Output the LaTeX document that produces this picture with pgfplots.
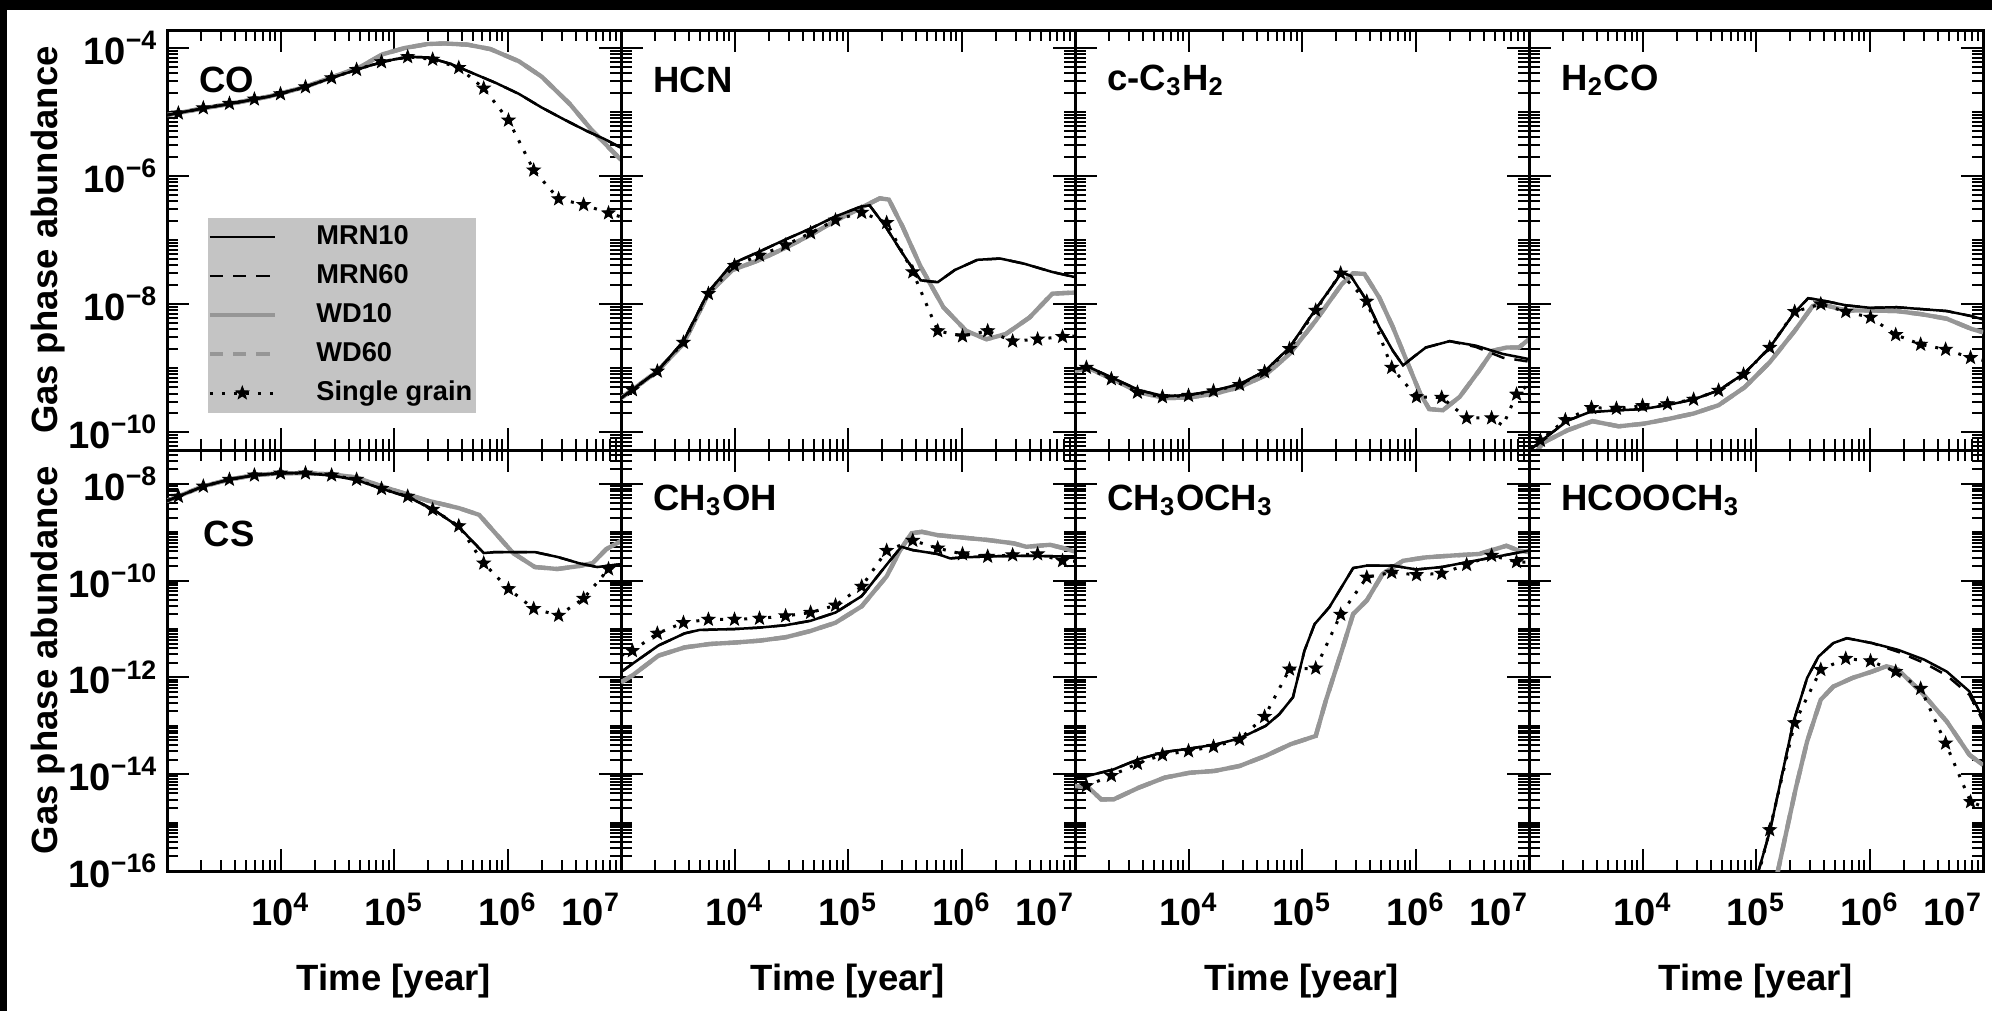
\documentclass[border=0pt]{standalone}
\usepackage{pgfplots}
\pgfplotsset{compat=1.18}
\usepackage{pgfplotstable}
\usepackage{fontspec}
\setmainfont{Liberation Sans}
\definecolor{wdgray}{RGB}{150,150,150}
\definecolor{legbg}{RGB}{196,196,196}

\pgfdeclareplotmark{fstar}{%
  \pgfpathmoveto{\pgfqpointpolar{90}{\pgfplotmarksize}}%
  \pgfpathlineto{\pgfqpointpolar{126}{0.42\pgfplotmarksize}}%
  \pgfpathlineto{\pgfqpointpolar{162}{\pgfplotmarksize}}%
  \pgfpathlineto{\pgfqpointpolar{198}{0.42\pgfplotmarksize}}%
  \pgfpathlineto{\pgfqpointpolar{234}{\pgfplotmarksize}}%
  \pgfpathlineto{\pgfqpointpolar{270}{0.42\pgfplotmarksize}}%
  \pgfpathlineto{\pgfqpointpolar{306}{\pgfplotmarksize}}%
  \pgfpathlineto{\pgfqpointpolar{342}{0.42\pgfplotmarksize}}%
  \pgfpathlineto{\pgfqpointpolar{18}{\pgfplotmarksize}}%
  \pgfpathlineto{\pgfqpointpolar{54}{0.42\pgfplotmarksize}}%
  \pgfpathclose\pgfusepathqfillstroke}

\def\yminors{1e-17}
\foreach \e in {-17,...,-3}{\foreach \m in {2,...,9}{\xdef\yminors{\yminors,\m e\e}}}
\foreach \e in {-17,-15,...,-3}{\xdef\yminors{\yminors,1e\e}}
\def\xminors{2e3}
\foreach \e in {3,...,6}{\foreach \m in {2,...,9}{\xdef\xminors{\xminors,\m e\e}}}

% ---------------- data ----------------
% CO
\pgfplotstableread{
x y
1e3 8.91e-6
2.0e3 1.12e-5
3.98e3 1.38e-5
7.94e3 1.74e-5
1.58e4 2.40e-5
3.16e4 3.63e-5
6.31e4 5.37e-5
1e5 6.61e-5
1.41e5 7.24e-5
2.0e5 7.08e-5
3.16e5 5.62e-5
5.01e5 3.98e-5
7.94e5 2.82e-5
1.26e6 1.91e-5
2.0e6 1.17e-5
3.16e6 7.59e-6
5.01e6 5.01e-6
7.08e6 3.80e-6
1e7 2.75e-6
}\coM
\pgfplotstableread{
x y
1e3 8.91e-6
2.0e3 1.12e-5
3.98e3 1.38e-5
7.94e3 1.74e-5
1.58e4 2.40e-5
3.16e4 3.72e-5
5.01e4 5.01e-5
7.94e4 7.94e-5
1.26e5 1.0e-4
2.0e5 1.15e-4
2.82e5 1.17e-4
4.47e5 1.12e-4
7.08e5 9.55e-5
1.26e6 6.17e-5
2.0e6 3.55e-5
3.55e6 1.32e-5
5.62e6 5.01e-6
1e7 1.78e-6
}\coW
\pgfplotstableread{
x y
1.26e3 9.55e-6
2.09e3 1.15e-5
3.55e3 1.35e-5
5.89e3 1.58e-5
1.00e4 1.91e-5
1.66e4 2.45e-5
2.82e4 3.39e-5
4.68e4 4.57e-5
7.76e4 6.03e-5
1.32e5 7.24e-5
2.19e5 6.61e-5
3.72e5 4.90e-5
6.17e5 2.34e-5
1.02e6 7.41e-6
1.70e6 1.23e-6
2.82e6 4.37e-7
4.68e6 3.55e-7
7.76e6 2.63e-7
}\coS
\pgfplotstableread{
x y
1e3 8.91e-6
1.26e3 9.55e-6
2.09e3 1.15e-5
3.55e3 1.35e-5
5.89e3 1.58e-5
1.00e4 1.91e-5
1.66e4 2.45e-5
2.82e4 3.39e-5
4.68e4 4.57e-5
7.76e4 6.03e-5
1.32e5 7.24e-5
2.19e5 6.61e-5
3.72e5 4.90e-5
6.17e5 2.34e-5
1.02e6 7.41e-6
1.70e6 1.23e-6
2.82e6 4.37e-7
4.68e6 3.55e-7
7.76e6 2.63e-7
1e7 2.29e-7
}\coD
% HCN
\pgfplotstableread{
x y
1e3 3.39e-10
2.09e3 8.91e-10
3.55e3 2.63e-9
5.89e3 1.55e-8
9.55e3 4.27e-8
1.62e4 6.46e-8
2.75e4 1.0e-7
4.68e4 1.51e-7
7.59e4 2.29e-7
1.29e5 3.31e-7
1.55e5 3.47e-7
2.14e5 1.62e-7
3.02e5 6.17e-8
4.37e5 2.34e-8
6.17e5 2.19e-8
8.71e5 3.39e-8
1.38e6 4.90e-8
2.19e6 5.13e-8
3.55e6 4.27e-8
6.31e6 3.16e-8
1e7 2.63e-8
}\hcnM
\pgfplotstableread{
x y
1e3 3.39e-10
2.09e3 8.91e-10
3.55e3 2.40e-9
5.89e3 1.45e-8
9.55e3 3.39e-8
1.62e4 4.79e-8
2.75e4 7.41e-8
4.68e4 1.20e-7
7.59e4 1.95e-7
1.29e5 3.16e-7
1.91e5 4.47e-7
2.29e5 4.27e-7
3.02e5 1.62e-7
4.37e5 3.80e-8
6.92e5 8.91e-9
1.10e6 3.80e-9
1.66e6 2.82e-9
2.45e6 3.39e-9
3.98e6 6.17e-9
6.31e6 1.45e-8
1e7 1.51e-8
}\hcnW
\pgfplotstableread{
x y
1.26e3 4.57e-10
2.09e3 8.91e-10
3.55e3 2.51e-9
5.89e3 1.45e-8
1.00e4 3.98e-8
1.66e4 5.75e-8
2.82e4 8.32e-8
4.68e4 1.29e-7
7.76e4 2.04e-7
1.32e5 2.69e-7
2.19e5 1.86e-7
3.72e5 3.16e-8
6.17e5 3.80e-9
1.02e6 3.16e-9
1.70e6 3.80e-9
2.82e6 2.63e-9
4.68e6 2.82e-9
7.76e6 3.09e-9
}\hcnS
\pgfplotstableread{
x y
1e3 3.39e-10
1.26e3 4.57e-10
2.09e3 8.91e-10
3.55e3 2.51e-9
5.89e3 1.45e-8
1.00e4 3.98e-8
1.66e4 5.75e-8
2.82e4 8.32e-8
4.68e4 1.29e-7
7.76e4 2.04e-7
1.32e5 2.69e-7
2.19e5 1.86e-7
3.72e5 3.16e-8
6.17e5 3.80e-9
1.02e6 3.16e-9
1.70e6 3.80e-9
2.82e6 2.63e-9
4.68e6 2.82e-9
7.76e6 3.09e-9
1e7 3.16e-9
}\hcnD
% c-C3H2
\pgfplotstableread{
x y
1e3 9.77e-10
1.35e3 1.02e-9
2.24e3 6.76e-10
3.72e3 4.47e-10
6.17e3 3.63e-10
1.02e4 3.80e-10
1.70e4 4.47e-10
2.82e4 5.62e-10
4.68e4 8.91e-10
7.76e4 2.09e-9
1.32e5 8.32e-9
2.24e5 3.09e-8
2.69e5 2.75e-8
3.72e5 1.12e-8
4.79e5 4.37e-9
6.31e5 1.86e-9
7.76e5 1.10e-9
9.55e5 1.48e-9
1.23e6 2.09e-9
2.0e6 2.63e-9
3.39e6 2.24e-9
5.89e6 1.66e-9
1e7 1.38e-9
}\ccM
\pgfplotstableread{
x y
1e3 9.77e-10
1.35e3 1.02e-9
2.24e3 6.76e-10
3.72e3 4.47e-10
6.17e3 3.63e-10
1.02e4 3.80e-10
1.70e4 4.47e-10
2.82e4 5.62e-10
4.68e4 8.91e-10
7.76e4 2.09e-9
1.32e5 8.32e-9
2.24e5 3.09e-8
2.69e5 2.75e-8
3.72e5 1.12e-8
4.79e5 4.37e-9
6.31e5 1.86e-9
7.76e5 1.10e-9
9.55e5 1.48e-9
1.23e6 2.09e-9
2.0e6 2.63e-9
3.39e6 2.14e-9
5.89e6 1.45e-9
1e7 1.26e-9
}\ccMd
\pgfplotstableread{
x y
1e3 9.12e-10
1.35e3 9.77e-10
2.24e3 6.46e-10
3.72e3 4.17e-10
6.17e3 3.39e-10
1.02e4 3.47e-10
1.70e4 3.98e-10
2.82e4 5.01e-10
4.68e4 7.59e-10
7.76e4 1.66e-9
1.32e5 5.50e-9
2.24e5 2.04e-8
2.82e5 3.02e-8
3.55e5 2.95e-8
4.79e5 1.26e-8
6.31e5 4.37e-9
8.32e5 1.32e-9
1.10e6 3.98e-10
1.32e6 2.29e-10
1.74e6 2.19e-10
2.45e6 3.55e-10
3.63e6 9.12e-10
4.79e6 1.86e-9
6.31e6 2.09e-9
8.13e6 2.09e-9
1e7 2.82e-9
}\ccW
\pgfplotstableread{
x y
1.26e3 1.02e-9
2.09e3 6.76e-10
3.55e3 4.17e-10
5.89e3 3.55e-10
1.00e4 3.72e-10
1.66e4 4.37e-10
2.82e4 5.50e-10
4.68e4 8.71e-10
7.76e4 2.0e-9
1.32e5 7.94e-9
2.19e5 3.02e-8
3.72e5 1.10e-8
6.17e5 1.02e-9
1.02e6 3.55e-10
1.70e6 3.47e-10
2.82e6 1.66e-10
4.68e6 1.66e-10
7.76e6 3.89e-10
}\ccS
\pgfplotstableread{
x y
1e3 9.77e-10
1.26e3 1.02e-9
2.09e3 6.76e-10
3.55e3 4.17e-10
5.89e3 3.55e-10
1.00e4 3.72e-10
1.66e4 4.37e-10
2.82e4 5.50e-10
4.68e4 8.71e-10
7.76e4 2.0e-9
1.32e5 7.94e-9
2.19e5 3.02e-8
3.72e5 1.10e-8
6.17e5 1.02e-9
1.02e6 3.55e-10
1.70e6 3.47e-10
2.82e6 1.66e-10
4.68e6 1.66e-10
5.89e6 1.26e-10
7.76e6 3.89e-10
1e7 5.62e-10
}\ccD
% H2CO
\pgfplotstableread{
x y
1e3 5.13e-11
1.32e3 7.59e-11
2.19e3 1.51e-10
3.39e3 2.04e-10
6.17e3 2.19e-10
1.02e4 2.29e-10
1.74e4 2.69e-10
2.82e4 3.24e-10
4.68e4 4.47e-10
7.94e4 8.32e-10
1.32e5 2.09e-9
2.19e5 7.41e-9
2.88e5 1.23e-8
3.72e5 1.15e-8
6.17e5 9.55e-9
1.02e6 8.71e-9
1.74e6 8.91e-9
2.88e6 8.32e-9
4.79e6 7.76e-9
7.94e6 6.46e-9
1e7 5.75e-9
}\hcoM
\pgfplotstableread{
x y
1e3 3.55e-11
1.35e3 6.92e-11
2.19e3 1.07e-10
3.63e3 1.48e-10
6.17e3 1.23e-10
1.02e4 1.35e-10
1.74e4 1.62e-10
2.82e4 1.95e-10
4.68e4 2.63e-10
7.94e4 5.01e-10
1.32e5 1.23e-9
2.19e5 3.80e-9
3.16e5 9.33e-9
3.72e5 1.0e-8
6.17e5 7.94e-9
1.02e6 7.94e-9
1.74e6 7.76e-9
2.88e6 6.92e-9
4.79e6 5.89e-9
7.94e6 4.07e-9
1e7 3.63e-9
}\hcoW
\pgfplotstableread{
x y
1.26e3 7.41e-11
2.09e3 1.55e-10
3.55e3 2.40e-10
5.89e3 2.34e-10
1.00e4 2.57e-10
1.66e4 2.75e-10
2.82e4 3.24e-10
4.68e4 4.47e-10
7.76e4 7.94e-10
1.32e5 2.09e-9
2.19e5 7.59e-9
3.72e5 1.0e-8
6.17e5 7.59e-9
1.02e6 6.17e-9
1.70e6 3.31e-9
2.82e6 2.34e-9
4.68e6 1.95e-9
7.76e6 1.45e-9
}\hcoS
\pgfplotstableread{
x y
1e3 5.0e-11
1.26e3 7.41e-11
2.09e3 1.55e-10
3.55e3 2.40e-10
5.89e3 2.34e-10
1.00e4 2.57e-10
1.66e4 2.75e-10
2.82e4 3.24e-10
4.68e4 4.47e-10
7.76e4 7.94e-10
1.32e5 2.09e-9
2.19e5 7.59e-9
3.72e5 1.0e-8
6.17e5 7.59e-9
1.02e6 6.17e-9
1.70e6 3.31e-9
2.82e6 2.34e-9
4.68e6 1.95e-9
7.76e6 1.45e-9
1e7 1.32e-9
}\hcoD
% CS
\pgfplotstableread{
x y
1e3 4.47e-9
1.26e3 5.50e-9
2.09e3 8.91e-9
3.55e3 1.23e-8
5.89e3 1.51e-8
1e4 1.66e-8
1.66e4 1.66e-8
2.82e4 1.48e-8
4.68e4 1.20e-8
7.76e4 7.94e-9
1.32e5 5.37e-9
2.19e5 3.02e-9
3.72e5 1.29e-9
6.17e5 3.72e-10
7.76e5 3.89e-10
1.74e6 3.89e-10
2.75e6 3.09e-10
4.27e6 2.29e-10
6.17e6 1.91e-10
1e7 2.19e-10
}\csM
\pgfplotstableread{
x y
1e3 4.47e-9
2.09e3 8.91e-9
3.55e3 1.23e-8
5.89e3 1.51e-8
1e4 1.66e-8
1.66e4 1.66e-8
2.82e4 1.58e-8
4.68e4 1.35e-8
7.76e4 8.91e-9
1.32e5 6.03e-9
2.0e5 4.47e-9
3.72e5 3.16e-9
5.62e5 2.29e-9
7.76e5 9.77e-10
1.12e6 3.72e-10
1.74e6 1.91e-10
2.75e6 1.74e-10
4.27e6 2.0e-10
5.62e6 2.29e-10
7.41e6 4.47e-10
1e7 6.61e-10
}\csW
\pgfplotstableread{
x y
1.26e3 5.50e-9
2.09e3 8.91e-9
3.55e3 1.23e-8
5.89e3 1.51e-8
1.00e4 1.66e-8
1.66e4 1.66e-8
2.82e4 1.51e-8
4.68e4 1.23e-8
7.76e4 7.94e-9
1.32e5 5.50e-9
2.19e5 2.95e-9
3.72e5 1.35e-9
6.17e5 2.29e-10
1.02e6 6.76e-11
1.70e6 2.63e-11
2.82e6 1.91e-11
4.68e6 4.27e-11
7.76e6 1.74e-10
}\csS
\pgfplotstableread{
x y
1e3 4.47e-9
1.26e3 5.50e-9
2.09e3 8.91e-9
3.55e3 1.23e-8
5.89e3 1.51e-8
1.00e4 1.66e-8
1.66e4 1.66e-8
2.82e4 1.51e-8
4.68e4 1.23e-8
7.76e4 7.94e-9
1.32e5 5.50e-9
2.19e5 2.95e-9
3.72e5 1.35e-9
6.17e5 2.29e-10
1.02e6 6.76e-11
1.70e6 2.63e-11
2.82e6 1.91e-11
4.68e6 4.27e-11
7.76e6 1.74e-10
1e7 2.0e-10
}\csD
% CH3OH
\pgfplotstableread{
x y
1e3 1.29e-12
1.26e3 1.91e-12
2.14e3 4.57e-12
3.63e3 8.13e-12
4.90e3 9.55e-12
1e4 1.0e-11
1.66e4 1.07e-11
2.82e4 1.20e-11
4.68e4 1.48e-11
7.76e4 2.19e-11
1.32e5 4.79e-11
2.19e5 2.14e-10
2.95e5 5.01e-10
3.72e5 4.27e-10
6.17e5 3.55e-10
7.94e5 2.88e-10
1.02e6 3.02e-10
1.70e6 3.16e-10
2.82e6 3.24e-10
4.68e6 3.24e-10
7.76e6 3.16e-10
1e7 3.16e-10
}\mohM
\pgfplotstableread{
x y
1e3 7.94e-13
1.26e3 1.10e-12
2.14e3 2.82e-12
3.63e3 4.17e-12
6.03e3 4.90e-12
1e4 5.25e-12
1.66e4 5.75e-12
2.82e4 6.76e-12
4.68e4 9.12e-12
7.76e4 1.35e-11
1.32e5 2.95e-11
2.19e5 1.23e-10
2.88e5 4.27e-10
3.63e5 9.55e-10
4.47e5 1.02e-9
6.17e5 8.71e-10
1.02e6 7.76e-10
1.70e6 6.92e-10
2.88e6 5.89e-10
3.72e6 5.01e-10
6.03e6 5.50e-10
7.94e6 4.68e-10
1e7 3.98e-10
}\mohW
\pgfplotstableread{
x y
1.26e3 3.55e-12
2.09e3 8.13e-12
3.55e3 1.35e-11
5.89e3 1.58e-11
1.00e4 1.58e-11
1.66e4 1.66e-11
2.82e4 1.86e-11
4.68e4 2.19e-11
7.76e4 3.09e-11
1.32e5 7.59e-11
2.19e5 4.17e-10
3.72e5 6.76e-10
6.17e5 4.68e-10
1.02e6 3.55e-10
1.70e6 3.16e-10
2.82e6 3.39e-10
4.68e6 3.55e-10
7.76e6 2.57e-10
}\mohS
\pgfplotstableread{
x y
1e3 2.82e-12
1.26e3 3.55e-12
2.09e3 8.13e-12
3.55e3 1.35e-11
5.89e3 1.58e-11
1.00e4 1.58e-11
1.66e4 1.66e-11
2.82e4 1.86e-11
4.68e4 2.19e-11
7.76e4 3.09e-11
1.32e5 7.59e-11
2.19e5 4.17e-10
3.72e5 6.76e-10
6.17e5 4.68e-10
1.02e6 3.55e-10
1.70e6 3.16e-10
2.82e6 3.39e-10
4.68e6 3.55e-10
7.76e6 2.57e-10
1e7 2.51e-10
}\mohD
% CH3OCH3
\pgfplotstableread{
x y
1e3 7.94e-15
1.32e3 9.33e-15
2.19e3 1.26e-14
3.63e3 2.04e-14
6.17e3 2.88e-14
1.02e4 3.39e-14
1.70e4 4.07e-14
2.82e4 5.50e-14
4.79e4 1.0e-13
6.31e4 1.74e-13
8.32e4 3.89e-13
1.05e5 3.55e-12
1.29e5 1.26e-11
1.74e5 2.82e-11
2.82e5 1.82e-10
3.72e5 2.04e-10
6.31e5 2.04e-10
1.02e6 1.70e-10
1.70e6 1.91e-10
2.82e6 2.40e-10
4.79e6 3.02e-10
1e7 4.17e-10
}\dmeM
\pgfplotstableread{
x y
1e3 5.75e-15
1.32e3 5.25e-15
1.70e3 3.02e-15
2.19e3 3.02e-15
3.63e3 5.25e-15
6.17e3 8.51e-15
1.02e4 1.07e-14
1.70e4 1.17e-14
2.82e4 1.48e-14
4.79e4 2.40e-14
7.94e4 4.17e-14
1.32e5 6.17e-14
1.62e5 3.31e-13
2.24e5 3.55e-12
2.82e5 2.04e-11
3.72e5 3.89e-11
5.13e5 1.38e-10
7.76e5 2.57e-10
1.23e6 3.02e-10
2.14e6 3.31e-10
3.63e6 3.55e-10
6.31e6 5.25e-10
8.13e6 4.17e-10
1e7 3.89e-10
}\dmeW
\pgfplotstableread{
x y
1.26e3 5.75e-15
2.09e3 9.33e-15
3.55e3 1.66e-14
5.89e3 2.51e-14
1.00e4 3.02e-14
1.66e4 3.72e-14
2.82e4 5.25e-14
4.68e4 1.55e-13
7.76e4 1.48e-12
1.32e5 1.55e-12
2.19e5 2.0e-11
3.72e5 1.17e-10
6.17e5 1.48e-10
1.02e6 1.32e-10
1.70e6 1.41e-10
2.82e6 2.14e-10
4.68e6 3.31e-10
7.76e6 2.45e-10
}\dmeS
\pgfplotstableread{
x y
1e3 4.47e-15
1.26e3 5.75e-15
2.09e3 9.33e-15
3.55e3 1.66e-14
5.89e3 2.51e-14
1.00e4 3.02e-14
1.66e4 3.72e-14
2.82e4 5.25e-14
4.68e4 1.55e-13
7.76e4 1.48e-12
1.32e5 1.55e-12
2.19e5 2.0e-11
3.72e5 1.17e-10
6.17e5 1.48e-10
1.02e6 1.32e-10
1.70e6 1.41e-10
2.82e6 2.14e-10
4.68e6 3.31e-10
7.76e6 2.45e-10
1e7 2.40e-10
}\dmeD
% HCOOCH3
\pgfplotstableread{
x y
7.94e4 1e-17
1.32e5 6.46e-16
2.14e5 1.23e-13
2.82e5 9.77e-13
3.55e5 2.69e-12
4.79e5 5.13e-12
6.31e5 6.46e-12
1.05e6 5.13e-12
1.78e6 3.72e-12
3.02e6 2.34e-12
4.79e6 1.32e-12
7.59e6 5.13e-13
1e7 1.41e-13
}\mfM
\pgfplotstableread{
x y
7.94e4 1e-17
1.32e5 6.46e-16
2.14e5 1.23e-13
2.82e5 9.77e-13
3.55e5 2.69e-12
4.79e5 5.13e-12
6.31e5 6.46e-12
1.05e6 5.13e-12
1.78e6 3.39e-12
3.02e6 2.0e-12
4.79e6 1.10e-12
7.59e6 4.37e-13
1e7 1.26e-13
}\mfMd
\pgfplotstableread{
x y
1.26e5 1e-17
2.24e5 5.13e-15
2.82e5 4.79e-14
3.72e5 3.47e-13
4.79e5 6.46e-13
7.08e5 9.77e-13
1.05e6 1.32e-12
1.41e6 1.70e-12
1.78e6 1.45e-12
2.82e6 5.13e-13
4.79e6 1.23e-13
7.59e6 2.51e-14
1e7 1.55e-14
}\mfW
\pgfplotstableread{
x y
1.32e5 7.08e-16
2.19e5 1.15e-13
3.72e5 1.45e-12
6.17e5 2.45e-12
1.02e6 2.19e-12
1.70e6 1.32e-12
2.82e6 5.89e-13
4.68e6 4.37e-14
7.76e6 2.69e-15
}\mfS
\pgfplotstableread{
x y
7.76e4 5e-18
1.32e5 7.08e-16
2.19e5 1.15e-13
3.72e5 1.45e-12
6.17e5 2.45e-12
1.02e6 2.19e-12
1.70e6 1.32e-12
2.82e6 5.89e-13
4.68e6 4.37e-14
7.76e6 2.69e-15
1e7 2.14e-15
}\mfD

\tikzset{
  wd/.style={color=wdgray, line width=1.3bp, solid},
  wdd/.style={color=wdgray, line width=1.3bp, dash pattern=on 4bp off 3bp},
  mrn/.style={black, line width=0.75bp, solid},
  mrnd/.style={black, line width=0.75bp, dash pattern=on 4bp off 3bp},
  sgl/.style={black, line width=0.9bp, dash pattern=on 0.9bp off 2.7bp},
  spec/.style={anchor=west, font=\bfseries\fontsize{11}{13}\selectfont, inner sep=0pt},
}
\pgfplotsset{
  mystars/.style={only marks, mark=fstar, mark size=2bp, mark options={fill=black, draw=black, line width=0.3bp, solid}},
  mylegimg/.style={legend image code/.code={\draw[mark repeat=2,mark phase=2,##1] plot coordinates {(0bp,0bp) (9.75bp,0bp) (19.5bp,0bp)}; \path[draw=none,fill=none] (0bp,-2bp) rectangle (31bp,2bp);}},
}

\newcommand\myaxis[1]{\begin{axis}[scale only axis, width=136.2bp,
    xmode=log, ymode=log, xmin=1e3, xmax=1e7,
    xtick={1e4,1e5,1e6,1e7},
    minor xtick/.expand once={\xminors},
    minor ytick/.expand once={\yminors},
    tick align=inside,
    major tick length=6.5bp, minor tick length=3.2bp,
    tick style={black, line width=0.6bp},
    axis line style={line width=0.9bp},
    xticklabels={,,,,}, yticklabels={,,,,,},
    ticklabel style={font=\bfseries\fontsize{11.5}{13}\selectfont},
    xticklabel style={yshift=-3bp},
    yticklabel style={xshift=0.8bp},
    label style={font=\bfseries\fontsize{11}{13}\selectfont},
    xlabel style={at={(axis description cs:0.5,-0.262)},anchor=center},
    ylabel style={at={(axis description cs:-0.262,0.5)},anchor=center},
    #1]}

\begin{document}
\begin{tikzpicture}
\useasboundingbox (0,0) rectangle (597.6bp,303.3bp);
\fill[black] (0,0) rectangle (597.6bp,303.3bp);
\fill[white] (2.1bp,0) rectangle (597.6bp,300.3bp);

% ---------- top row ----------
\myaxis{height=126bp, ymin=5.25e-11, ymax=1.9e-4, ytick={1e-10,1e-8,1e-6,1e-4},
  at={(50.1bp,168.3bp)}, anchor=south west,
  yticklabels={10\textsuperscript{−10},10\textsuperscript{−8},10\textsuperscript{−6},10\textsuperscript{−4}},
  ylabel={Gas phase abundance},
  mylegimg,
  legend style={at={(axis description cs:0.088,0.555)}, anchor=north west, fill=legbg, draw=none,
    inner xsep=0pt, inner ysep=0pt, row sep=0pt,
    font=\bfseries\fontsize{8.2}{9}\selectfont,
    nodes={inner ysep=2.1bp, inner xsep=1bp, text height=6bp, text depth=1.5bp}},
  legend cell align=left}
\addlegendimage{mrn}\addlegendentry{MRN10}
\addlegendimage{mrnd}\addlegendentry{MRN60}
\addlegendimage{wd}\addlegendentry{WD10}
\addlegendimage{wdd}\addlegendentry{WD60}
\addlegendimage{sgl, mark=fstar, mark size=2bp, mark options={solid, fill=black, line width=0.3bp}}\addlegendentry{Single grain}
\addplot[wd] table {\coW};
\addplot[wdd] table {\coW};
\addplot[mrn] table {\coM};
\addplot[mrnd] table {\coM};
\addplot[sgl] table {\coD};
\addplot[mystars] table {\coS};
\node[spec] at (axis description cs:0.07,0.88) {CO};
\end{axis}

\myaxis{height=126bp, ymin=5.25e-11, ymax=1.9e-4, ytick={1e-10,1e-8,1e-6,1e-4},
  at={(186.3bp,168.3bp)}, anchor=south west}
\addplot[wd] table {\hcnW};
\addplot[wdd] table {\hcnW};
\addplot[mrn] table {\hcnM};
\addplot[mrnd] table {\hcnM};
\addplot[sgl] table {\hcnD};
\addplot[mystars] table {\hcnS};
\node[spec] at (axis description cs:0.07,0.88) {HCN};
\end{axis}

\myaxis{height=126bp, ymin=5.25e-11, ymax=1.9e-4, ytick={1e-10,1e-8,1e-6,1e-4},
  at={(322.5bp,168.3bp)}, anchor=south west}
\addplot[wd] table {\ccW};
\addplot[wdd] table {\ccW};
\addplot[mrn] table {\ccM};
\addplot[mrnd] table {\ccMd};
\addplot[sgl] table {\ccD};
\addplot[mystars] table {\ccS};
\node[spec] at (axis description cs:0.07,0.88) {c-C\textsubscript{3}H\textsubscript{2}};
\end{axis}

\myaxis{height=126bp, ymin=5.25e-11, ymax=1.9e-4, ytick={1e-10,1e-8,1e-6,1e-4},
  at={(458.7bp,168.3bp)}, anchor=south west}
\addplot[wd] table {\hcoW};
\addplot[wdd] table {\hcoW};
\addplot[mrn] table {\hcoM};
\addplot[mrnd] table {\hcoM};
\addplot[sgl] table {\hcoD};
\addplot[mystars] table {\hcoS};
\node[spec] at (axis description cs:0.07,0.88) {H\textsubscript{2}CO};
\end{axis}

% ---------- bottom row ----------
\myaxis{height=126.3bp, ymin=1e-16, ymax=5e-8, ytick={1e-16,1e-14,1e-12,1e-10,1e-8},
  xticklabels={10\textsuperscript{4},10\textsuperscript{5},10\textsuperscript{6},\hspace*{-18bp}10\textsuperscript{7}},
  xlabel={Time [year]},
  at={(50.1bp,42bp)}, anchor=south west,
  yticklabels={10\textsuperscript{−16},10\textsuperscript{−14},10\textsuperscript{−12},10\textsuperscript{−10},10\textsuperscript{−8}},
  ylabel={Gas phase abundance}}
\addplot[wd] table {\csW};
\addplot[wdd] table {\csW};
\addplot[mrn] table {\csM};
\addplot[mrnd] table {\csM};
\addplot[sgl] table {\csD};
\addplot[mystars] table {\csS};
\node[spec] at (axis description cs:0.08,0.80) {CS};
\end{axis}

\myaxis{height=126.3bp, ymin=1e-16, ymax=5e-8, ytick={1e-16,1e-14,1e-12,1e-10,1e-8},
  xticklabels={10\textsuperscript{4},10\textsuperscript{5},10\textsuperscript{6},\hspace*{-18bp}10\textsuperscript{7}},
  xlabel={Time [year]},
  at={(186.3bp,42bp)}, anchor=south west}
\addplot[wd] table {\mohW};
\addplot[wdd] table {\mohW};
\addplot[mrn] table {\mohM};
\addplot[mrnd] table {\mohM};
\addplot[sgl] table {\mohD};
\addplot[mystars] table {\mohS};
\node[spec] at (axis description cs:0.07,0.88) {CH\textsubscript{3}OH};
\end{axis}

\myaxis{height=126.3bp, ymin=1e-16, ymax=5e-8, ytick={1e-16,1e-14,1e-12,1e-10,1e-8},
  xticklabels={10\textsuperscript{4},10\textsuperscript{5},10\textsuperscript{6},\hspace*{-18bp}10\textsuperscript{7}},
  xlabel={Time [year]},
  at={(322.5bp,42bp)}, anchor=south west}
\addplot[wd] table {\dmeW};
\addplot[wdd] table {\dmeW};
\addplot[mrn] table {\dmeM};
\addplot[mrnd] table {\dmeM};
\addplot[sgl] table {\dmeD};
\addplot[mystars] table {\dmeS};
\node[spec] at (axis description cs:0.07,0.88) {CH\textsubscript{3}OCH\textsubscript{3}};
\end{axis}

\myaxis{height=126.3bp, ymin=1e-16, ymax=5e-8, ytick={1e-16,1e-14,1e-12,1e-10,1e-8},
  xticklabels={10\textsuperscript{4},10\textsuperscript{5},10\textsuperscript{6},\hspace*{-18bp}10\textsuperscript{7}},
  xlabel={Time [year]},
  at={(458.7bp,42bp)}, anchor=south west}
\addplot[wd] table {\mfW};
\addplot[wdd] table {\mfW};
\addplot[mrn] table {\mfM};
\addplot[mrnd] table {\mfMd};
\addplot[sgl] table {\mfD};
\addplot[mystars] table {\mfS};
\node[spec] at (axis description cs:0.07,0.88) {HCOOCH\textsubscript{3}};
\end{axis}
\end{tikzpicture}
\end{document}
